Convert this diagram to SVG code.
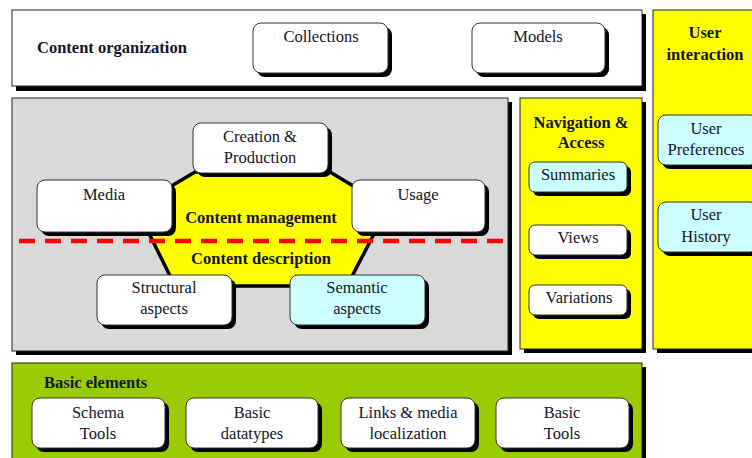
<svg xmlns="http://www.w3.org/2000/svg" width="752" height="458" viewBox="0 0 752 458">
<defs>
<style>
text{font-family:"Liberation Serif","Times New Roman",serif;font-size:16.5px;fill:#14142a}
.t{text-anchor:middle}
.b{font-weight:bold}
.bc{text-anchor:middle}
.panel{stroke:#222;stroke-width:1}
.sh{fill:#000}
.box{fill:#fff;stroke:#333;stroke-width:1}
.cyan{fill:#ccffff}
</style>
</defs>
<rect width="752" height="458" fill="#fff"/>

<g id="panel-content-organization">
<rect class="sh" x="16" y="14" width="630" height="77"/>
<rect class="panel" x="12" y="10" width="630" height="76" fill="#fff"/>
<text class="b" x="37" y="53">Content organization</text>
</g>

<g id="panel-user-interaction">
<rect class="sh" x="657" y="14" width="110" height="339"/>
<rect class="panel" x="653" y="10" width="110" height="339" fill="#ffff00"/>
<text class="b bc" x="705" y="38">User</text>
<text class="b bc" x="705" y="60">interaction</text>
</g>

<g id="panel-content-description">
<rect class="sh" x="16" y="102" width="496" height="253"/>
<rect class="panel" x="12" y="98" width="496" height="253" fill="#d9d9d9" stroke="#555"/>
</g>

<g id="panel-navigation">
<rect class="sh" x="524" y="102" width="122" height="251"/>
<rect class="panel" x="520" y="98" width="122" height="251" fill="#ffff00"/>
<text class="b bc" x="581" y="128">Navigation &amp;</text>
<text class="b bc" x="581" y="148">Access</text>
</g>

<g id="panel-basic-elements">
<rect class="sh" x="16" y="367" width="630" height="100"/>
<rect class="panel" x="12" y="363" width="630" height="100" fill="#99cc00"/>
<text class="b" x="44" y="388">Basic elements</text>
</g>

<g id="hexagon">
<polygon points="195,172 330,172 388,207 347,286 175,286 136,207" fill="#ffff00" stroke="#000" stroke-width="3.5" stroke-linejoin="round"/>
<text class="b bc" x="261" y="223">Content management</text>
<text class="b bc" x="261" y="264">Content description</text>
</g>

<g id="connectors">
<line x1="19" y1="241" x2="503" y2="241" stroke="#ff0000" stroke-width="4.5" stroke-dasharray="16 10"/>
</g>

<g id="collections">
<rect class="sh" x="257" y="27" width="135" height="50" rx="8"/>
<rect class="box" x="253" y="23" width="135" height="50" rx="8"/>
<text class="t" x="321" y="42">Collections</text>
</g>
<g id="models">
<rect class="sh" x="476" y="27" width="133" height="50" rx="8"/>
<rect class="box" x="472" y="23" width="133" height="50" rx="8"/>
<text class="t" x="538" y="42">Models</text>
</g>

<g id="user-preferences">
<rect class="sh" x="662" y="119" width="100" height="50" rx="8"/>
<rect class="box cyan" x="658" y="115" width="100" height="50" rx="8"/>
<text class="t" x="706" y="134">User</text>
<text class="t" x="706" y="155">Preferences</text>
</g>
<g id="user-history">
<rect class="sh" x="662" y="206" width="100" height="50" rx="8"/>
<rect class="box cyan" x="658" y="202" width="100" height="50" rx="8"/>
<text class="t" x="706" y="220">User</text>
<text class="t" x="706" y="242">History</text>
</g>

<g id="summaries">
<rect class="sh" x="533" y="166" width="98" height="30" rx="6"/>
<rect class="box cyan" x="529" y="162" width="98" height="30" rx="6"/>
<text class="t" x="578" y="180">Summaries</text>
</g>
<g id="views">
<rect class="sh" x="533" y="229" width="98" height="30" rx="6"/>
<rect class="box" x="529" y="225" width="98" height="30" rx="6"/>
<text class="t" x="578" y="243">Views</text>
</g>
<g id="variations">
<rect class="sh" x="533" y="289" width="98" height="30" rx="6"/>
<rect class="box" x="529" y="285" width="98" height="30" rx="6"/>
<text class="t" x="579" y="303">Variations</text>
</g>

<g id="creation-production">
<rect class="sh" x="197" y="127" width="135" height="50" rx="8"/>
<rect class="box" x="193" y="123" width="135" height="50" rx="8"/>
<text class="t" x="260" y="142">Creation &amp;</text>
<text class="t" x="260" y="163">Production</text>
</g>
<g id="media">
<rect class="sh" x="41" y="184" width="135" height="52" rx="8"/>
<rect class="box" x="37" y="180" width="135" height="52" rx="8"/>
<text class="t" x="104" y="200">Media</text>
</g>
<g id="usage">
<rect class="sh" x="356" y="184" width="133" height="52" rx="8"/>
<rect class="box" x="352" y="180" width="133" height="52" rx="8"/>
<text class="t" x="418" y="200">Usage</text>
</g>
<g id="structural-aspects">
<rect class="sh" x="101" y="279" width="135" height="50" rx="8"/>
<rect class="box" x="97" y="275" width="135" height="50" rx="8"/>
<text class="t" x="164" y="293">Structural</text>
<text class="t" x="164" y="314">aspects</text>
</g>
<g id="semantic-aspects">
<rect class="sh" x="294" y="279" width="135" height="50" rx="8"/>
<rect class="box cyan" x="290" y="275" width="135" height="50" rx="8"/>
<text class="t" x="357" y="293">Semantic</text>
<text class="t" x="357" y="314">aspects</text>
</g>

<g id="schema-tools">
<rect class="sh" x="36" y="402" width="133" height="50" rx="8"/>
<rect class="box" x="32" y="398" width="133" height="50" rx="8"/>
<text class="t" x="98" y="418">Schema</text>
<text class="t" x="98" y="439">Tools</text>
</g>
<g id="basic-datatypes">
<rect class="sh" x="190" y="402" width="132" height="50" rx="8"/>
<rect class="box" x="186" y="398" width="132" height="50" rx="8"/>
<text class="t" x="252" y="418">Basic</text>
<text class="t" x="252" y="439">datatypes</text>
</g>
<g id="links-media-localization">
<rect class="sh" x="345" y="402" width="134" height="50" rx="8"/>
<rect class="box" x="341" y="398" width="134" height="50" rx="8"/>
<text class="t" x="408" y="418">Links &amp; media</text>
<text class="t" x="408" y="439">localization</text>
</g>
<g id="basic-tools">
<rect class="sh" x="500" y="402" width="133" height="50" rx="8"/>
<rect class="box" x="496" y="398" width="133" height="50" rx="8"/>
<text class="t" x="562" y="418">Basic</text>
<text class="t" x="562" y="439">Tools</text>
</g>
</svg>
